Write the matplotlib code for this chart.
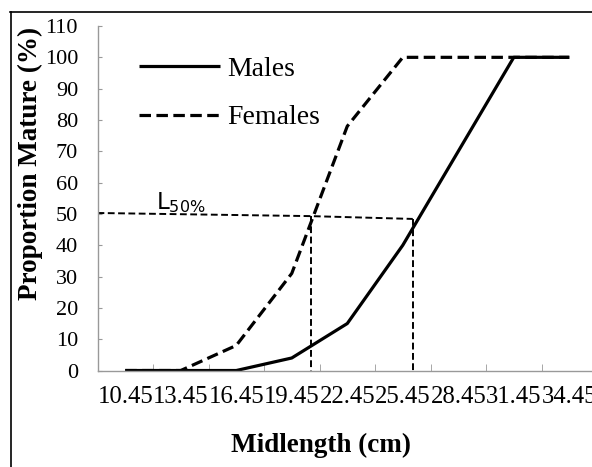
import matplotlib
matplotlib.use('Agg')
import matplotlib.pyplot as plt
from matplotlib.lines import Line2D

# size classes (cm) and maturity curves (%)
midlength = ['10.45', '13.45', '16.45', '19.45', '22.45', '25.45', '28.45', '31.45', '34.45']
males = [0, 0, 0, 4, 15, 40, 70, 100, 100]
females = [0, 0, 8, 31, 78, 100, 100, 100, 100]

# L50% guide lines (in category-index units)
l50_x = [-0.5, 3.34, 5.18]
l50_y = [50.3, 49.3, 48.4]
l50_female = 3.34
l50_male = 5.18

serif = 'Liberation Serif'

fig = plt.figure(figsize=(5.92, 4.67), dpi=100)
ax = fig.add_axes([0.1647, 0.2066, 0.8438, 0.7377])

xs = list(range(len(midlength)))
ax.plot(xs, males, color='black', lw=2.3, label='Males', solid_capstyle='butt')
ax.plot(xs, females, color='black', lw=2.3, ls=(0, (3.6, 1.7)), label='Females')

# guide lines for L50
ax.plot(l50_x, l50_y, color='black', lw=1.4, ls=(0, (3.5, 1.8)))
ax.plot([l50_female, l50_female], [l50_y[1], -0.6], color='black', lw=1.4,
        ls=(0, (3.5, 1.8)), clip_on=False)
ax.plot([l50_male, l50_male], [l50_y[2], -0.6], color='black', lw=1.4,
        ls=(0, (3.5, 1.8)), clip_on=False)
ax.text(0.55, 51.5, r'L$_{50\%}$', fontsize=16.5, family='DejaVu Sans',
        math_fontfamily='dejavusans')

ax.set_xlim(-0.5, 8.5)
ax.set_ylim(0, 110)
ax.set_yticks(range(0, 111, 10))
ax.set_xticks(xs)
ax.set_xticklabels(midlength)
ax.set_xticks([i - 0.5 for i in range(len(midlength) + 1)], minor=True)
ax.tick_params(axis='x', which='major', length=0, pad=11)
ax.tick_params(axis='x', which='minor', direction='in', length=5, color='#999999')
ax.tick_params(axis='y', direction='in', length=3, color='#999999', pad=14)
for lab in ax.get_xticklabels():
    lab.set_family(serif)
    lab.set_fontsize(17.8)
for lab in ax.get_yticklabels():
    lab.set_family(serif)
    lab.set_fontsize(16)

for s in ['top', 'right']:
    ax.spines[s].set_visible(False)
for s in ['left', 'bottom']:
    ax.spines[s].set_color('#999999')
    ax.spines[s].set_linewidth(1)

ax.set_ylabel('Proportion Mature (%)', family=serif, fontsize=19.5, fontweight='bold')
ax.yaxis.set_label_coords(-0.109, 0.6)
ax.set_xlabel('Midlength (cm)', family=serif, fontsize=19.5, fontweight='bold')
ax.xaxis.set_label_coords(0.4475, -0.181)

leg = ax.legend(loc='upper left', bbox_to_anchor=(0.034, 0.985), frameon=False,
                prop={'family': serif, 'size': 20}, handlelength=2.9,
                handletextpad=0.25, labelspacing=0.84)

# outer frame of the original image
fig.add_artist(Line2D([10 / 592, 1], [1 - 12 / 467, 1 - 12 / 467], color='black', lw=1.2))
fig.add_artist(Line2D([11 / 592, 11 / 592], [0, 1 - 12 / 467], color='black', lw=1.2))

fig.savefig('out.png', dpi=100)
